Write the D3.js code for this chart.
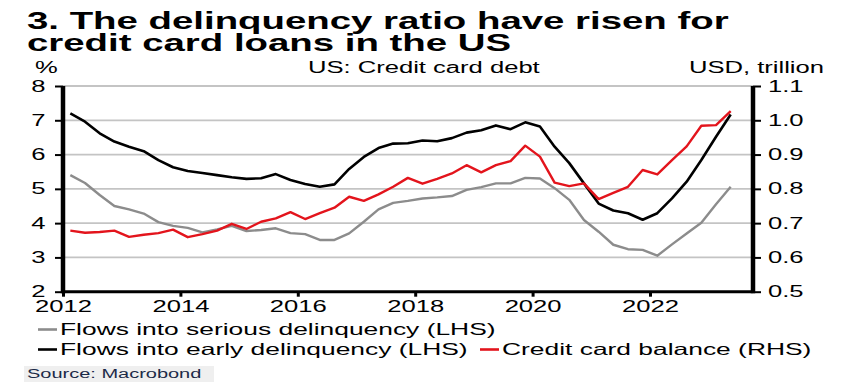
<!DOCTYPE html>
<html>
<head>
<meta charset="utf-8">
<script src="https://cdn.jsdelivr.net/npm/d3@7"></script>
<style>
  html, body { margin: 0; padding: 0; background: #fff; }
  svg { display: block; font-family: "Liberation Sans", Arial, sans-serif; }
</style>
</head>
<body>
<svg id="chart" width="850" height="390"></svg>
<script>
// ---------------- DATA ----------------
const quarters = [
  "2012Q1","2012Q2","2012Q3","2012Q4","2013Q1","2013Q2","2013Q3","2013Q4",
  "2014Q1","2014Q2","2014Q3","2014Q4","2015Q1","2015Q2","2015Q3","2015Q4",
  "2016Q1","2016Q2","2016Q3","2016Q4","2017Q1","2017Q2","2017Q3","2017Q4",
  "2018Q1","2018Q2","2018Q3","2018Q4","2019Q1","2019Q2","2019Q3","2019Q4",
  "2020Q1","2020Q2","2020Q3","2020Q4","2021Q1","2021Q2","2021Q3","2021Q4",
  "2022Q1","2022Q2","2022Q3","2022Q4","2023Q1","2023Q2"
];
// Flows into serious delinquency (LHS, %)
const seriousDelinq = [
  5.40, 5.17, 4.82, 4.50, 4.40, 4.28, 4.03, 3.92, 3.86, 3.73,
  3.82, 3.92, 3.77, 3.80, 3.85, 3.71, 3.68, 3.51, 3.51, 3.70,
  4.04, 4.40, 4.59, 4.65, 4.72, 4.75, 4.79, 4.97, 5.05, 5.16,
  5.16, 5.32, 5.30, 5.02, 4.68, 4.09, 3.75, 3.37, 3.24, 3.22,
  3.05, 3.38, 3.70, 4.01, 4.55, 5.06
];
// Flows into early delinquency (LHS, %)
const earlyDelinq = [
  7.20, 6.96, 6.62, 6.38, 6.23, 6.10, 5.84, 5.63, 5.52, 5.46,
  5.40, 5.34, 5.29, 5.31, 5.43, 5.26, 5.14, 5.06, 5.13, 5.58,
  5.93, 6.19, 6.32, 6.33, 6.41, 6.39, 6.48, 6.64, 6.71, 6.85,
  6.74, 6.94, 6.82, 6.23, 5.75, 5.16, 4.57, 4.37, 4.29, 4.10,
  4.29, 4.72, 5.21, 5.84, 6.52, 7.17
];
// Credit card balance (RHS, USD trillion)
const cardBalance = [
  0.678, 0.672, 0.674, 0.678, 0.660, 0.666, 0.671, 0.681, 0.659, 0.668,
  0.678, 0.698, 0.683, 0.704, 0.714, 0.732, 0.712, 0.729, 0.745, 0.777,
  0.765, 0.784, 0.806, 0.832, 0.815, 0.829, 0.845, 0.869, 0.848, 0.869,
  0.881, 0.926, 0.894, 0.818, 0.808, 0.816, 0.770, 0.788, 0.806, 0.855,
  0.842, 0.884, 0.924, 0.984, 0.986, 1.027
];
const xTicks = [2012, 2014, 2016, 2018, 2020, 2022];
const leftTicks = [2, 3, 4, 5, 6, 7, 8];
const rightTicks = [0.5, 0.6, 0.7, 0.8, 0.9, 1.0, 1.1];
const titleLines = ["3. The delinquency ratio have risen for", "credit card loans in the US"];
const seriesNames = ["Flows into serious delinquency (LHS)", "Flows into early delinquency (LHS)", "Credit card balance (RHS)"];

// ---------------- LAYOUT ----------------
const SX = 1.6; // horizontal text stretch as in reference
const L = 63, R = 753, T = 86, B = 291.7;
const svg = d3.select("#chart");

// quarter -> decimal year (mid quarter)
const qTime = q => +q.slice(0, 4) + (+q.slice(5) - 1) * 0.25 + 0.125;

const x = d3.scaleLinear().domain([2012, 2023.755]).range([L, R]);
const yL = d3.scaleLinear().domain([2, 8]).range([B, T]);
const yR = d3.scaleLinear().domain([0.5, 1.1]).range([B, T]);

function stext(g, xx, yy, s, o = {}) {
  return g.append("text")
    .attr("transform", `translate(${xx},${yy}) scale(${SX},1)`)
    .attr("text-anchor", o.anchor || "start")
    .attr("font-size", o.size || 16)
    .attr("font-weight", o.weight || "normal")
    .attr("fill", o.fill || "#000")
    .text(s);
}

// Title
stext(svg, 27, 28.5, titleLines[0], { size: 24, weight: "bold" });
stext(svg, 27, 50.5, titleLines[1], { size: 24, weight: "bold" });

// Header row
stext(svg, 35, 73, "%", { size: 16 });
stext(svg, 308, 73, "US: Credit card debt", { size: 16 });
stext(svg, 824, 73, "USD, trillion", { size: 16, anchor: "end" });

// Gridlines
svg.append("g").selectAll("line").data(leftTicks.filter(d => d > 2)).join("line")
  .attr("x1", L).attr("x2", R)
  .attr("y1", d => yL(d)).attr("y2", d => yL(d))
  .attr("stroke", "#c4c4c4").attr("stroke-width", 1.8);

// Left axis
const gL = svg.append("g").attr("transform", `translate(${L},0)`)
  .call(d3.axisLeft(yL).tickValues(leftTicks).tickSize(8).tickSizeOuter(0).tickFormat(d3.format("d")));
gL.select(".domain").remove();
gL.selectAll(".tick line").attr("stroke", "#000").attr("stroke-width", 2);
gL.selectAll(".tick text").attr("font-size", 16).attr("font-family", "Liberation Sans, Arial, sans-serif")
  .attr("fill", "#000").attr("x", -17.5 / SX).attr("transform", `scale(${SX},1)`);

// Right axis
const gR = svg.append("g").attr("transform", `translate(${R},0)`)
  .call(d3.axisRight(yR).tickValues(rightTicks).tickSize(8).tickSizeOuter(0).tickFormat(d3.format(".1f")));
gR.select(".domain").remove();
gR.selectAll(".tick line").attr("stroke", "#000").attr("stroke-width", 2);
gR.selectAll(".tick text").attr("font-size", 16).attr("font-family", "Liberation Sans, Arial, sans-serif")
  .attr("fill", "#000").attr("x", 15 / SX).attr("transform", `scale(${SX},1)`);

// Bottom axis
const gB = svg.append("g").attr("transform", `translate(0,${B})`)
  .call(d3.axisBottom(x).tickValues(xTicks).tickSize(5).tickSizeOuter(0).tickFormat(d3.format("d")));
gB.select(".domain").remove();
gB.selectAll(".tick line").attr("stroke", "#000").attr("stroke-width", 3);
gB.selectAll(".tick text").attr("font-size", 16).attr("font-family", "Liberation Sans, Arial, sans-serif")
  .attr("fill", "#000").attr("y", 20.5).attr("dy", 0).attr("transform", `scale(${SX},1)`);

// Axis lines
svg.append("line").attr("x1", L).attr("x2", R).attr("y1", B).attr("y2", B)
  .attr("stroke", "#000").attr("stroke-width", 3);
svg.append("line").attr("x1", L).attr("x2", L).attr("y1", T).attr("y2", B + 1.5)
  .attr("stroke", "#000").attr("stroke-width", 4.5);
svg.append("line").attr("x1", R).attr("x2", R).attr("y1", T).attr("y2", B + 1.5)
  .attr("stroke", "#000").attr("stroke-width", 4.5);

// Lines
const lineL = d3.line().x((d, i) => x(qTime(quarters[i]))).y(d => yL(d));
const lineR = d3.line().x((d, i) => x(qTime(quarters[i]))).y(d => yR(d));
svg.append("path").datum(seriousDelinq).attr("d", lineL)
  .attr("fill", "none").attr("stroke", "#8c8c8c").attr("stroke-width", 2.4).attr("stroke-linejoin", "round");
svg.append("path").datum(earlyDelinq).attr("d", lineL)
  .attr("fill", "none").attr("stroke", "#000").attr("stroke-width", 2.6).attr("stroke-linejoin", "round");
svg.append("path").datum(cardBalance).attr("d", lineR)
  .attr("fill", "none").attr("stroke", "#e3141c").attr("stroke-width", 2.4).attr("stroke-linejoin", "round");

// Legend
const lg = svg.append("g");
function legItem(x0, y0, color, label) {
  lg.append("line").attr("x1", x0).attr("x2", x0 + 19).attr("y1", y0 - 5.5).attr("y2", y0 - 5.5)
    .attr("stroke", color).attr("stroke-width", 2.6);
  stext(lg, x0 + 22, y0, label, { size: 16.5 });
}
legItem(38, 335, "#8c8c8c", seriesNames[0]);
legItem(38, 355, "#000", seriesNames[1]);
legItem(480, 355, "#e3141c", seriesNames[2]);

// Source
svg.append("rect").attr("x", 24).attr("y", 366).attr("width", 190).attr("height", 16).attr("fill", "#efefef");
stext(svg, 27, 378, "Source: Macrobond", { size: 12.5, fill: "#1c2a48" });
</script>
</body>
</html>
